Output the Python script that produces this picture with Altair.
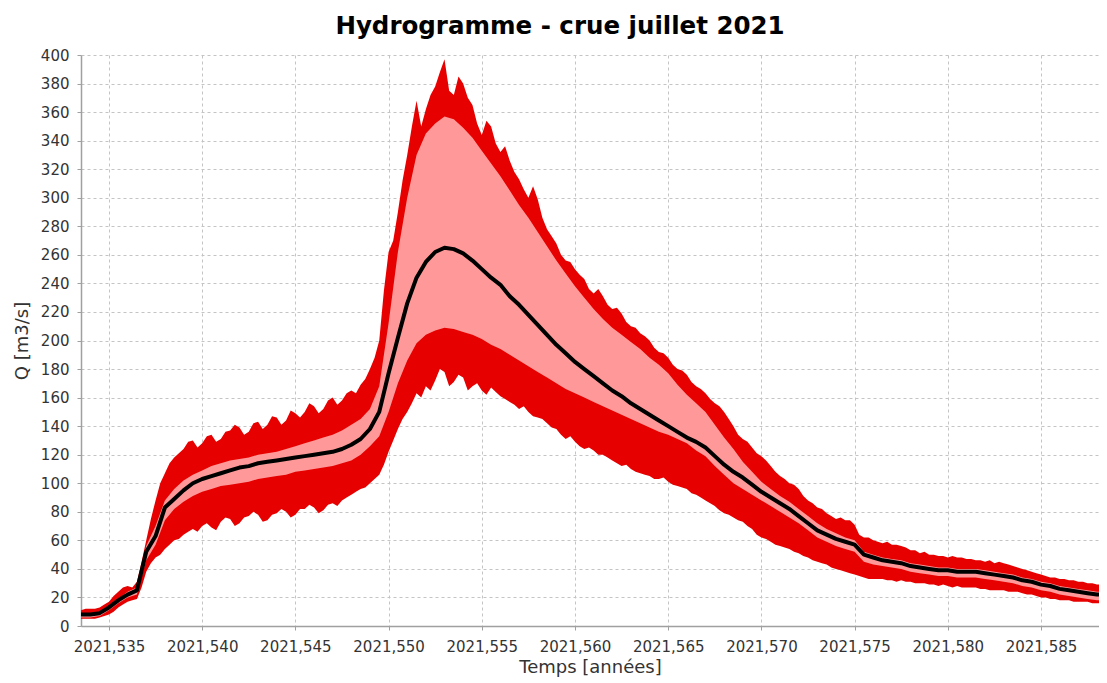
import altair as alt
import pandas as pd

# regular time sampling (years)
t_start = 2021.5335
t_step = 0.0005        # median and inner band
t_step_outer = 0.00025  # outer band (finer, it is jagged)

median = [
    8, 8, 9, 13, 18, 22, 25, 52, 63, 83,
    89, 95, 100, 103, 105, 107, 109, 111, 112, 114,
    115, 116, 117, 118, 119, 120, 121, 122, 124, 127,
    131, 138, 150, 177, 202, 226, 244, 255, 262, 265,
    264, 261, 256, 250, 244, 239, 231, 225, 218, 211,
    204, 197, 191, 185, 180, 175, 170, 165, 161, 156,
    152, 148, 144, 140, 136, 132, 129, 125, 119, 113,
    108, 104, 99, 94, 90, 86, 82, 77, 72, 67,
    64, 61, 59, 57, 50, 48, 46, 45, 44, 42,
    41, 40, 39, 39, 38, 38, 38, 37, 36, 35,
    34, 32, 31, 29, 28, 26, 25, 24, 23, 22, 22,
]

inner_hi = [
    9, 9, 10, 14, 19, 24, 27, 56, 70, 88,
    96, 102, 106, 109, 112, 114, 116, 117, 118, 120,
    121, 122, 124, 126, 128, 130, 132, 134, 137, 141,
    145, 152, 168, 212, 262, 300, 330, 345, 352, 357,
    355, 349, 342, 333, 324, 315, 305, 295, 286, 276,
    266, 256, 247, 238, 230, 222, 215, 209, 204, 199,
    194, 188, 183, 177, 169, 162, 156, 150, 141, 132,
    124, 115, 108, 101, 96, 91, 87, 82, 77, 72,
    68, 65, 62, 60, 52, 50, 48, 47, 46, 44,
    43, 42, 41, 41, 40, 40, 40, 39, 38, 37,
    36, 34, 33, 31, 30, 28, 27, 26, 25, 24, 24,
]

inner_lo = [
    6, 6, 7, 11, 16, 20, 22, 46, 57, 74,
    82, 87, 91, 94, 96, 98, 99, 100, 101, 103,
    104, 105, 106, 108, 109, 110, 111, 112, 114, 116,
    120, 126, 133, 150, 170, 186, 198, 204, 207, 209,
    208, 206, 204, 201, 197, 194, 190, 186, 182, 178,
    174, 170, 166, 163, 160, 157, 154, 151, 148, 145,
    142, 139, 136, 134, 131, 128, 123, 119, 112, 106,
    100, 96, 92, 88, 84, 80, 76, 72, 67, 62,
    59, 56, 54, 52, 45, 43, 42, 41, 40, 38,
    37, 36, 35, 35, 34, 34, 34, 33, 32, 31,
    30, 28, 27, 25, 24, 22, 21, 20, 19, 18, 18,
]

outer_hi = [
    11, 12, 12, 12, 13, 15, 17, 21, 24, 27, 28, 27, 31, 45, 60, 75, 88, 100, 107, 114,
    118, 121, 124, 129, 130, 125, 128, 133, 134, 129, 131, 136, 137, 141, 139, 134, 136, 142, 143, 138,
    141, 147, 146, 141, 144, 151, 149, 146, 150, 156, 154, 149, 152, 158, 160, 155, 158, 163, 165, 163,
    169, 173, 180, 188, 200, 235, 262, 270, 290, 312, 330, 350, 368, 350, 362, 372, 378, 388, 397, 375,
    372, 385, 380, 370, 365, 352, 344, 354, 350, 338, 332, 336, 326, 318, 313, 306, 300, 308, 299, 286,
    278, 273, 268, 260, 256, 255, 250, 246, 243, 236, 233, 236, 231, 225, 222, 223, 219, 213, 210, 209,
    205, 203, 200, 195, 192, 191, 188, 183, 180, 179, 176, 171, 168, 166, 163, 159, 156, 154, 150, 145,
    140, 134, 131, 129, 125, 121, 119, 116, 112, 108, 105, 103, 100, 99, 96, 91, 88, 86, 83, 82,
    79, 77, 75, 76, 74, 74, 71, 64, 62, 62, 60, 59, 58, 59, 57, 57, 56, 55, 53, 53,
    51, 52, 50, 50, 49, 49, 48, 49, 48, 48, 47, 47, 46, 46, 45, 46, 44, 45, 44, 43,
    42, 41, 40, 39, 38, 37, 36, 35, 34, 34, 33, 33, 32, 32, 31, 31, 30, 30, 29, 29, 28,
]

outer_lo = [
    5, 5, 5, 5, 6, 7, 8, 10, 13, 15, 17, 18, 19, 27, 38, 44, 48, 50, 54, 57,
    60, 61, 64, 66, 68, 66, 70, 72, 69, 67, 73, 76, 75, 70, 72, 76, 77, 80, 78, 73,
    74, 78, 79, 82, 80, 76, 78, 82, 82, 85, 83, 79, 81, 85, 86, 84, 88, 90, 92, 94,
    96, 97, 100, 103, 106, 113, 122, 130, 138, 145, 150, 156, 163, 160, 168, 165, 172, 180, 178, 168,
    171, 176, 174, 165, 168, 170, 165, 162, 167, 164, 161, 159, 157, 155, 152, 154, 150, 147, 146, 145,
    142, 139, 138, 134, 131, 133, 129, 126, 124, 125, 123, 120, 120, 118, 116, 114, 112, 113, 110, 108,
    107, 106, 105, 103, 103, 104, 101, 99, 98, 97, 96, 93, 92, 90, 88, 86, 84, 81, 79, 78,
    76, 74, 73, 70, 68, 64, 62, 61, 59, 57, 56, 55, 54, 52, 51, 49, 48, 46, 45, 44,
    43, 41, 40, 39, 38, 37, 36, 35, 34, 33, 33, 33, 33, 32, 32, 31, 32, 31, 31, 30,
    30, 30, 29, 29, 28, 29, 28, 27, 28, 27, 27, 27, 27, 26, 26, 25, 25, 25, 25, 24,
    24, 24, 23, 22, 22, 21, 20, 20, 19, 19, 18, 18, 18, 17, 17, 17, 17, 16, 16, 16, 16,
]

x_ticks = [2021.535, 2021.540, 2021.545, 2021.550, 2021.555, 2021.560,
           2021.565, 2021.570, 2021.575, 2021.580, 2021.585]
y_ticks = list(range(0, 401, 20))

df_mid = pd.DataFrame({
    "t": [round(t_start + t_step * i, 6) for i in range(len(median))],
    "med": median, "ih": inner_hi, "il": inner_lo,
})
df_out = pd.DataFrame({
    "t": [round(t_start + t_step_outer * i, 6) for i in range(len(outer_hi))],
    "oh": outer_hi, "ol": outer_lo,
})

x_dom = [2021.5335, 2021.58811]
xs = alt.Scale(domain=x_dom, nice=False, zero=False)
ys = alt.Scale(domain=[0, 400], nice=False)

x_axis = alt.Axis(
    title="Temps [années]", values=x_ticks,
    labelExpr="replace(format(datum.value, '.3f'), '.', ',')",
    grid=True, labelFlush=False, labelOverlap=False,
)
y_axis = alt.Axis(title="Q [m3/s]", values=y_ticks, grid=True,
                  labelOverlap=False, labelFlush=False)

outer = alt.Chart(df_out).mark_area(color="#E60000", opacity=1, clip=True).encode(
    x=alt.X("t:Q", scale=xs, axis=x_axis),
    y=alt.Y("ol:Q", scale=ys, axis=y_axis),
    y2="oh:Q",
)
inner = alt.Chart(df_mid).mark_area(color="#FF9999", opacity=1, clip=True).encode(
    x=alt.X("t:Q", scale=xs, axis=x_axis),
    y=alt.Y("il:Q", scale=ys, axis=y_axis),
    y2="ih:Q",
)
line = alt.Chart(df_mid).mark_line(color="#000000", strokeWidth=4, strokeJoin="round",
                                   clip=True).encode(
    x=alt.X("t:Q", scale=xs, axis=x_axis),
    y=alt.Y("med:Q", scale=ys, axis=y_axis),
)

chart = alt.layer(outer, inner, line).properties(
    width=1018,
    height=571,
    title=alt.TitleParams(
        "Hydrogramme - crue juillet 2021",
        font="DejaVu Sans", fontSize=24.5, fontWeight="bold", color="#000000",
        anchor="middle", offset=9, dx=-30,
    ),
    autosize=alt.AutoSizeParams(type="none"),
    padding={"left": 73, "top": 47, "right": 0, "bottom": 58},
).configure_view(
    strokeWidth=0,
).configure_axis(
    labelFont="DejaVu Sans", labelFontSize=15, labelColor="#333333",
    titleFont="DejaVu Sans", titleFontSize=18, titleColor="#333333", titleFontWeight="normal",
    gridColor="#C4C4C4", gridDash=[3, 3], gridWidth=1,
    domainColor="#A0A0A0", domainWidth=1.5,
    tickColor="#A0A0A0", tickSize=4,
).configure_axisX(
    labelPadding=9, titlePadding=4,
).configure_axisY(
    labelPadding=8, titlePadding=9,
)

chart.save("out.html", embed_options={"renderer": "svg", "actions": False})
